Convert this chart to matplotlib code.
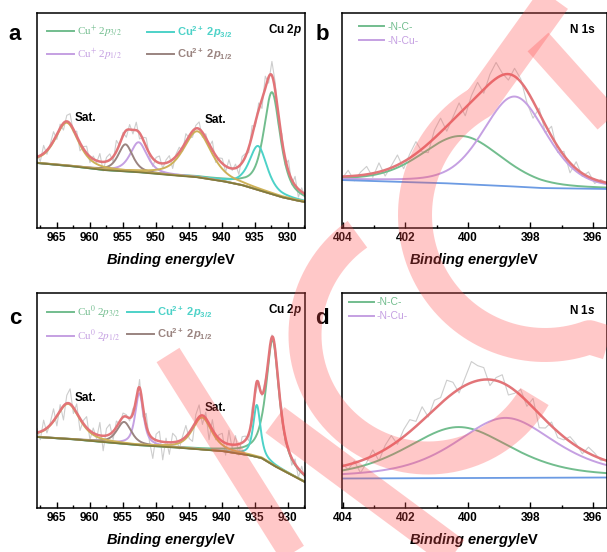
import matplotlib.pyplot as plt
import numpy as np
from matplotlib.font_manager import FontProperties
from matplotlib.ticker import MultipleLocator

plt.rcParams['font.family'] = 'Liberation Sans'
plt.rcParams['mathtext.fontset'] = 'custom'
plt.rcParams['mathtext.rm'] = 'Liberation Sans:bold'
plt.rcParams['mathtext.it'] = 'Liberation Sans:italic:bold'
plt.rcParams['mathtext.bf'] = 'Liberation Sans:bold'
plt.rcParams['mathtext.bfit'] = 'Liberation Sans:italic:bold'

# ---------------- data (intensity in arbitrary units) ----------------
# panel a: Cu 2p, fitted components (Sat., Cu2+ 2p1/2, Cu+ 2p1/2, Sat., Cu2+ 2p3/2, Cu+ 2p3/2)
a_center = [963.5, 954.6, 952.6, 943.7, 934.5, 932.4]
a_height = [43, 27, 30, 46, 44, 102]
a_fwhm = [4.2, 2.6, 3.0, 5.0, 3.2, 3.0]
a_eta = [0.6, 0.6, 0.6, 0.6, 0.6, 0.7]
a_bg_e = [968, 963, 958, 953, 948, 944, 940, 937, 935, 933, 931, 929, 927.4]
a_bg_i = [65, 62, 58, 56, 53, 51, 47, 43, 39, 35, 31, 28, 26]
a_resid = [3, -6, 8, -4, 2, 9, -5, 4, -7, 6, 10, -3, 5, -8, 2, 7, -6, 3, -2, 8,
           -9, 4, 6, -5, 11, -2, 3, -7, 5, -4, 8, -6, 2, 9, -3, -8, 4, 7, -5, 3,
           6, -9, 2, 5, -4, 8, -2, -6, 3, 7, -5, 4, -3, 9, -7, 2, 5, -6, 8, -2,
           4, -8, 6, 3, -5, 10, -4, 7, -9, 12, -6, 14, 8, -10, 6, -7, 11, -5, 9, -8,
           4, -3]

# panel c: Cu 2p (Sat., Cu2+ 2p1/2, Cu0 2p1/2, Sat., Cu2+ 2p3/2, Cu0 2p3/2)
c_center = [963.3, 954.8, 952.5, 943.0, 934.7, 932.3]
c_height = [35, 22, 52, 32, 52, 125]
c_fwhm = [4.2, 2.6, 1.5, 3.5, 1.3, 2.4]
c_eta = [0.6, 0.6, 0.7, 0.6, 0.7, 0.85]
c_bg_e = [968, 963, 958, 953, 948, 944, 940, 936, 934, 932, 930, 928, 927.4]
c_bg_i = [71, 69, 66, 63, 61, 59, 57, 53, 50, 42, 35, 28, 26]
c_resid = [4, -8, 10, -5, 2, 12, -10, 6, -14, 8, 15, -6, 9, -12, 3, 11, -9, 5, -4, 13,
           -15, 7, 10, -8, 6, -3, 4, 2, -3, 5, -6, 8, -11, 12, -7, -20, 6, 10, -18, 4,
           -12, 9, 5, -8, 3, 11, -6, -14, 7, 12, -9, 6, -16, 10, -5, 4, 8, -12, 14, -4,
           9, -11, 6, 4, -7, 10, -5, 3, -2, 4, -3, 2, 5, -4, 8, -6, 3, -7, 5, -9,
           6, -4]

# panel b: N 1s (-N-C-, -N-Cu-)
b_center = [400.2, 398.5]
b_height = [48, 90]
b_fwhm = [3.0, 2.4]
b_eta = [0.3, 0.3]
b_bg_e = [404.1, 400.9, 398.8, 397.7, 395.5]
b_bg_i = [48, 45, 42, 40, 39]
b_resid = [-2, 6, -5, 3, 8, -4, 9, -6, 2, 10, -7, 4, 12, -3, -9, 8, 14, -5, 3, 11,
           -8, 6, 13, -4, 9, 16, 2, -6, 8, 3, -12, -17, 5, -8, 10, -6, 4, -10, 7, -3,
           5, -4, 2, -1]

# panel d: N 1s
d_center = [400.3, 398.8]
d_height = [51, 60]
d_fwhm = [4.0, 3.8]
d_eta = [0.5, 0.6]
d_bg_e = [404.1, 395.5]
d_bg_i = [29.5, 30.5]
d_resid = [3, -5, 2, -12, -4, 6, -8, 4, 10, -3, 7, 12, 5, 14, -2, 9, 6, 18, 11, -4,
           8, 21, 15, 12, -6, 3, 8, -9, -3, 6, -5, 9, -14, -8, 4, -6, -3, 5, 2, -4,
           6, 3, -2, 1]

RAW = '#cdcdcd'
ENV = '#e27478'
GREEN = '#72bd8e'
CYAN = '#4dd2c8'
LAV = '#c5a0e2'
TAUPE = '#9a8480'
GOLD = '#cdb158'
BGCU = '#807a3e'
BLUE = '#6c9be3'

cu_colors = [GOLD, TAUPE, LAV, GOLD, CYAN, GREEN]
n_colors = [GREEN, LAV]


def pvoigt(x, c, h, w, eta):
    g = np.exp(-4 * np.log(2) * ((x - c) / w) ** 2)
    l = 1 / (1 + 4 * ((x - c) / w) ** 2)
    return h * (eta * l + (1 - eta) * g)


def draw_panel(ax, lim, centers, heights, fwhms, etas, bg_e, bg_i, resid, colors, bgcolor, order):
    x = np.linspace(lim[0], lim[1], 600)
    bg = np.interp(x, bg_e[::-1], bg_i[::-1])
    comps = [pvoigt(x, c, h, w, e) for c, h, w, e in zip(centers, heights, fwhms, etas)]
    env = bg + np.sum(comps, axis=0)
    xr = np.linspace(lim[0], lim[1], len(resid))
    ax.plot(xr, np.interp(xr, x[::-1], env[::-1]) + np.array(resid), color=RAW, lw=0.8)
    for i in order:
        ax.plot(x, bg + comps[i], color=colors[i], lw=1.4)
    ax.plot(x, bg, color=bgcolor, lw=1.3)
    ax.plot(x, env, color=ENV, lw=1.8)
    ax.set_xlim(lim)
    ax.set_ylim(0, 215)
    ax.set_yticks([])
    ax.tick_params(axis='x', which='both', direction='in', labelsize=8.5, pad=3)
    ax.tick_params(axis='x', which='major', length=4, width=1)
    ax.tick_params(axis='x', which='minor', length=2, width=1)
    for s in ax.spines.values():
        s.set_linewidth(1.1)
    ax.set_xlabel(r'$\mathbfit{Binding\ energy}$/eV', fontsize=10.5, fontweight='bold', labelpad=5)


W, H = 607, 552
fig = plt.figure(figsize=(W / 100, H / 100), dpi=100)


def add_ax(l, r, t, b):
    return fig.add_axes([l / W, 1 - b / H, (r - l) / W, (b - t) / H])


ax_a = add_ax(37, 305, 13, 228)
ax_b = add_ax(342, 607, 13, 228)
ax_c = add_ax(37, 305, 293, 508)
ax_d = add_ax(342, 607, 293, 508)

cu_order = [5, 4, 2, 1, 0, 3]
draw_panel(ax_a, (968, 927.4), a_center, a_height, a_fwhm, a_eta, a_bg_e, a_bg_i, a_resid,
           cu_colors, BGCU, cu_order)
draw_panel(ax_c, (968, 927.4), c_center, c_height, c_fwhm, c_eta, c_bg_e, c_bg_i, c_resid,
           cu_colors, BGCU, cu_order)
draw_panel(ax_b, (404.03, 395.55), b_center, b_height, b_fwhm, b_eta, b_bg_e, b_bg_i, b_resid,
           n_colors, BLUE, [0, 1])
draw_panel(ax_d, (404.03, 395.55), d_center, d_height, d_fwhm, d_eta, d_bg_e, d_bg_i, d_resid,
           n_colors, BLUE, [0, 1])

for ax in (ax_a, ax_c):
    ax.xaxis.set_major_locator(MultipleLocator(5))
    ax.xaxis.set_minor_locator(MultipleLocator(2.5))
for ax in (ax_b, ax_d):
    ax.xaxis.set_major_locator(MultipleLocator(2))
    ax.xaxis.set_minor_locator(MultipleLocator(1))
for ax in (ax_a, ax_b, ax_c, ax_d):
    for lab in ax.get_xticklabels():
        lab.set_fontweight('bold')

# legends
serif = FontProperties(family='Liberation Serif', size=8, math_fontfamily='stix')
sans_b = FontProperties(family='Liberation Sans', size=8, weight='bold')
sans_n = FontProperties(family='Liberation Sans', size=7.5)
leg_kw = dict(frameon=False, loc='upper left', borderpad=0, borderaxespad=0,
              handlelength=2.4, handletextpad=0.3, labelspacing=0.6, labelcolor='linecolor')


def cu_legend(ax, sym, x2):
    h1 = [plt.Line2D([], [], color=GREEN, lw=1.4), plt.Line2D([], [], color=LAV, lw=1.4)]
    h2 = [plt.Line2D([], [], color=CYAN, lw=1.4), plt.Line2D([], [], color=TAUPE, lw=1.4)]
    l1 = ax.legend(h1, ['Cu$^{%s}$ 2$p_{3/2}$' % sym, 'Cu$^{%s}$ 2$p_{1/2}$' % sym],
                   prop=serif, bbox_to_anchor=(0.037, 0.95), **leg_kw)
    ax.add_artist(l1)
    ax.legend(h2, ['Cu$^{2+}$ 2$p_{3/2}$', 'Cu$^{2+}$ 2$p_{1/2}$'],
              prop=sans_b, bbox_to_anchor=(x2, 0.95), **leg_kw)


cu_legend(ax_a, '+', 0.41)
cu_legend(ax_c, '0', 0.336)

for ax, xa, ya in ((ax_b, 0.064, 0.96), (ax_d, 0.026, 0.98)):
    h = [plt.Line2D([], [], color=GREEN, lw=1.4), plt.Line2D([], [], color=LAV, lw=1.4)]
    ax.legend(h, ['-N-C-', '-N-Cu-'], prop=sans_n, bbox_to_anchor=(xa, ya),
              **dict(leg_kw, labelspacing=0.4))

# annotations
ax_a.text(0.989, 0.92, r'Cu 2$\mathbfit{p}$', transform=ax_a.transAxes, ha='right', va='center',
          fontsize=8.5, fontweight='bold')
ax_c.text(0.989, 0.92, r'Cu 2$\mathbfit{p}$', transform=ax_c.transAxes, ha='right', va='center',
          fontsize=8.5, fontweight='bold')
ax_b.text(0.955, 0.92, 'N 1s', transform=ax_b.transAxes, ha='right', va='center',
          fontsize=8.5, fontweight='bold')
ax_d.text(0.955, 0.92, r'N 1$\mathbfit{s}$', transform=ax_d.transAxes, ha='right', va='center',
          fontsize=8.5, fontweight='bold')

ax_a.text(960.6, 110, 'Sat.', ha='center', va='center', fontsize=8.5, fontweight='bold')
ax_a.text(941.0, 108, 'Sat.', ha='center', va='center', fontsize=8.5, fontweight='bold')
ax_c.text(960.6, 110, 'Sat.', ha='center', va='center', fontsize=8.5, fontweight='bold')
ax_c.text(941.0, 100, 'Sat.', ha='center', va='center', fontsize=8.5, fontweight='bold')

for lab, px, py in (('a', 15, 35), ('b', 322, 35), ('c', 15, 318), ('d', 322, 318)):
    fig.text(px / W, 1 - py / H, lab, fontsize=16, fontweight='bold', ha='center', va='center')

# ---------------- translucent red watermark strokes over the figure ----------------
wm = fig.add_axes([0, 0, 1, 1], zorder=10)
wm.set_xlim(0, W)
wm.set_ylim(H, 0)
wm.axis('off')


def stroke(xs, ys, width):
    wm.plot(xs, ys, color='#ff5050', alpha=0.31, lw=width * 0.72,
            solid_capstyle='butt', solid_joinstyle='round')


t1 = np.radians(np.linspace(70, 240, 80))
stroke(np.r_[615, 545 + 130 * np.cos(t1), 557], np.r_[345, 215 + 130 * np.sin(t1), -5], 34)
stroke([538, 615], [42, 128], 28)
t2 = np.radians(np.linspace(30, 235, 80))
stroke(428 + 123 * np.cos(t2), 335 + 123 * np.sin(t2), 33)
stroke([168, 295], [355, 557], 27)
stroke([275, 460], [420, 557], 32)

fig.savefig('out.png', dpi=100)
